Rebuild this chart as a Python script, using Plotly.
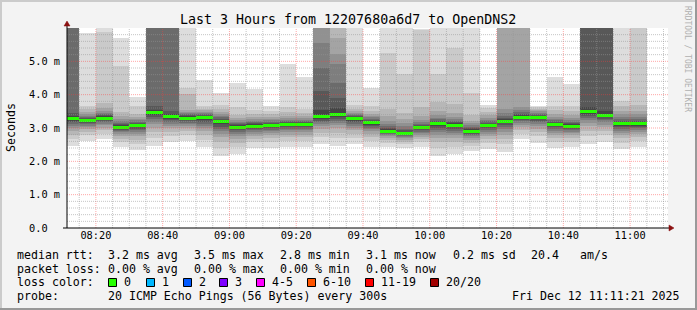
import plotly.graph_objects as go
import pandas as pd

# ---------------- data ----------------
DAY = "2025-12-12"
RANGE_START = "08:11:21"
RANGE_END = "11:11:21"

bin_start = ["08:10", "08:15", "08:20", "08:25", "08:30", "08:35", "08:40", "08:45",
             "08:50", "08:55", "09:00", "09:05", "09:10", "09:15", "09:20", "09:25",
             "09:30", "09:35", "09:40", "09:45", "09:50", "09:55", "10:00", "10:05",
             "10:10", "10:15", "10:20", "10:25", "10:30", "10:35", "10:40", "10:45",
             "10:50", "10:55", "11:00"]

# median rtt per 5-minute bin (ms)
median_ms = [3.28, 3.24, 3.30, 3.03, 3.09, 3.46, 3.34, 3.30, 3.31, 3.19,
             3.03, 3.06, 3.09, 3.11, 3.11, 3.34, 3.41, 3.28, 3.16, 2.91,
             2.84, 3.01, 3.14, 3.09, 2.91, 3.08, 3.21, 3.33, 3.33, 3.11,
             3.06, 3.49, 3.39, 3.13, 3.13]

# loss per bin (pings lost of 20)
loss_count = [0] * 35

# 20 sorted ping rtts per bin (ms); 9.9 = above the top of the graph
pings_ms = [
    [2.46, 2.66, 2.80, 2.91, 2.99, 3.06, 3.12, 3.17, 3.21, 3.26, 3.30, 3.36, 3.45, 9.9, 9.9, 9.9, 9.9, 9.9, 9.9, 9.9],
    [2.62, 2.78, 2.88, 2.96, 3.02, 3.07, 3.12, 3.15, 3.19, 3.22, 3.26, 3.28, 3.30, 3.33, 3.37, 3.42, 3.48, 3.56, 3.66, 5.84],
    [2.66, 2.82, 2.93, 3.01, 3.08, 3.13, 3.17, 3.21, 3.25, 3.28, 3.32, 3.35, 3.38, 3.42, 3.46, 3.52, 3.60, 3.75, 5.87, 9.9],
    [2.43, 2.58, 2.68, 2.76, 2.82, 2.87, 2.91, 2.95, 2.98, 3.01, 3.05, 3.08, 3.11, 3.15, 3.20, 3.27, 3.35, 3.49, 4.86, 5.71],
    [2.33, 2.52, 2.65, 2.75, 2.82, 2.88, 2.94, 2.98, 3.03, 3.07, 3.11, 3.13, 3.16, 3.19, 3.23, 3.28, 3.34, 3.41, 3.66, 3.93],
    [2.46, 2.71, 2.88, 3.01, 3.11, 3.19, 3.26, 3.32, 3.38, 3.43, 3.49, 3.55, 3.65, 9.9, 9.9, 9.9, 9.9, 9.9, 9.9, 9.9],
    [2.57, 2.76, 2.89, 2.99, 3.07, 3.13, 3.19, 3.23, 3.28, 3.32, 3.36, 3.42, 3.52, 9.9, 9.9, 9.9, 9.9, 9.9, 9.9, 9.9],
    [2.61, 2.78, 2.90, 2.99, 3.06, 3.11, 3.16, 3.20, 3.24, 3.28, 3.32, 3.35, 3.38, 3.41, 3.44, 3.48, 3.53, 4.01, 4.21, 9.9],
    [2.43, 2.65, 2.80, 2.91, 3.00, 3.07, 3.13, 3.19, 3.24, 3.29, 3.33, 3.36, 3.39, 3.42, 3.45, 3.49, 3.54, 3.58, 3.65, 4.43],
    [2.15, 2.41, 2.59, 2.72, 2.83, 2.91, 2.98, 3.04, 3.11, 3.16, 3.22, 3.25, 3.28, 3.32, 3.36, 3.41, 3.48, 3.57, 3.68, 4.06],
    [2.22, 2.42, 2.56, 2.67, 2.75, 2.81, 2.87, 2.93, 2.97, 3.01, 3.05, 3.08, 3.11, 3.15, 3.19, 3.24, 3.31, 3.40, 3.62, 4.36],
    [2.40, 2.57, 2.68, 2.76, 2.83, 2.88, 2.93, 2.97, 3.01, 3.04, 3.08, 3.11, 3.14, 3.18, 3.22, 3.27, 3.33, 3.42, 3.55, 4.16],
    [2.40, 2.57, 2.69, 2.78, 2.85, 2.90, 2.95, 3.00, 3.04, 3.07, 3.11, 3.13, 3.16, 3.19, 3.23, 3.28, 3.34, 3.42, 3.52, 3.66],
    [2.43, 2.60, 2.72, 2.80, 2.87, 2.93, 2.97, 3.02, 3.06, 3.09, 3.13, 3.15, 3.18, 3.21, 3.25, 3.30, 3.37, 3.47, 3.62, 4.91],
    [2.43, 2.60, 2.72, 2.80, 2.87, 2.93, 2.97, 3.02, 3.06, 3.09, 3.13, 3.15, 3.18, 3.21, 3.25, 3.30, 3.36, 3.44, 3.57, 4.53],
    [2.51, 2.72, 2.86, 2.97, 3.05, 3.12, 3.17, 3.22, 3.27, 3.32, 3.37, 3.55, 4.11, 4.81, 5.56, 9.9, 9.9, 9.9, 9.9, 9.9],
    [2.47, 2.71, 2.86, 2.99, 3.08, 3.16, 3.22, 3.28, 3.34, 3.39, 3.44, 3.60, 3.90, 4.36, 4.91, 5.21, 5.71, 9.9, 9.9, 9.9],
    [2.51, 2.70, 2.83, 2.93, 3.01, 3.07, 3.13, 3.17, 3.22, 3.26, 3.30, 3.32, 3.35, 3.38, 3.42, 3.46, 3.51, 3.58, 3.68, 9.9],
    [2.43, 2.61, 2.74, 2.83, 2.90, 2.96, 3.01, 3.06, 3.10, 3.14, 3.18, 3.21, 3.24, 3.28, 3.32, 3.37, 3.43, 3.52, 3.66, 4.19],
    [2.43, 2.56, 2.65, 2.71, 2.75, 2.79, 2.82, 2.85, 2.87, 2.89, 2.93, 2.96, 3.00, 3.05, 3.12, 3.22, 3.36, 3.56, 5.26, 9.9],
    [2.40, 2.51, 2.58, 2.64, 2.69, 2.72, 2.75, 2.78, 2.80, 2.82, 2.86, 2.89, 2.93, 2.98, 3.05, 3.14, 3.27, 3.46, 4.63, 9.9],
    [2.42, 2.57, 2.67, 2.74, 2.80, 2.85, 2.89, 2.93, 2.96, 2.99, 3.03, 3.06, 3.09, 3.13, 3.18, 3.25, 3.35, 3.62, 5.93, 5.97],
    [2.17, 2.41, 2.58, 2.70, 2.80, 2.88, 2.95, 3.01, 3.07, 3.12, 3.16, 3.19, 3.22, 3.26, 3.31, 3.38, 3.50, 3.77, 4.63, 9.9],
    [2.22, 2.44, 2.59, 2.70, 2.79, 2.86, 2.92, 2.97, 3.02, 3.07, 3.11, 3.14, 3.17, 3.21, 3.26, 3.33, 3.45, 3.71, 5.41, 9.9],
    [2.31, 2.46, 2.56, 2.64, 2.70, 2.75, 2.79, 2.83, 2.86, 2.89, 2.93, 2.96, 3.00, 3.04, 3.09, 3.15, 3.22, 3.40, 4.06, 9.9],
    [2.37, 2.55, 2.67, 2.76, 2.83, 2.89, 2.94, 2.99, 3.03, 3.06, 3.10, 3.13, 3.16, 3.20, 3.25, 3.31, 3.39, 3.49, 3.60, 3.69],
    [2.27, 2.51, 2.66, 2.79, 2.88, 2.96, 3.02, 3.08, 3.14, 3.19, 3.23, 3.26, 3.30, 3.36, 3.45, 3.58, 9.9, 9.9, 9.9, 9.9],
    [2.66, 2.83, 2.94, 3.03, 3.10, 3.15, 3.20, 3.24, 3.28, 3.31, 3.35, 3.38, 3.42, 3.48, 3.55, 3.64, 9.9, 9.9, 9.9, 9.9],
    [2.55, 2.75, 2.88, 2.98, 3.06, 3.12, 3.18, 3.22, 3.27, 3.31, 3.35, 3.37, 3.40, 3.43, 3.46, 3.50, 3.54, 3.58, 3.62, 3.66],
    [2.40, 2.58, 2.70, 2.79, 2.86, 2.92, 2.97, 3.02, 3.06, 3.09, 3.13, 3.16, 3.19, 3.23, 3.28, 3.34, 3.42, 3.53, 3.66, 4.53],
    [2.43, 2.59, 2.69, 2.78, 2.84, 2.89, 2.94, 2.98, 3.01, 3.04, 3.08, 3.11, 3.14, 3.18, 3.23, 3.30, 3.39, 3.51, 3.65, 4.33],
    [2.51, 2.76, 2.92, 3.05, 3.15, 3.23, 3.29, 3.35, 3.41, 3.46, 3.52, 3.62, 9.9, 9.9, 9.9, 9.9, 9.9, 9.9, 9.9, 9.9],
    [2.57, 2.78, 2.91, 3.02, 3.10, 3.17, 3.23, 3.28, 3.32, 3.37, 3.41, 3.50, 9.9, 9.9, 9.9, 9.9, 9.9, 9.9, 9.9, 9.9],
    [2.37, 2.56, 2.69, 2.79, 2.86, 2.92, 2.98, 3.02, 3.07, 3.11, 3.15, 3.18, 3.22, 3.27, 3.33, 3.41, 3.52, 3.66, 3.80, 9.9],
    [2.42, 2.60, 2.72, 2.81, 2.88, 2.94, 2.99, 3.03, 3.07, 3.11, 3.15, 3.18, 3.22, 3.27, 3.33, 3.41, 3.52, 3.70, 9.9, 9.9],
]

x_tick_labels = ["08:20", "08:40", "09:00", "09:20", "09:40", "10:00", "10:20", "10:40", "11:00"]
y_tick_values = [0, 1, 2, 3, 4, 5]
y_tick_labels = ["0.0\u00a0\u00a0", "1.0 m", "2.0 m", "3.0 m", "4.0 m", "5.0 m"]

title_text = "Last 3 Hours from 12207680a6d7 to OpenDNS2"
rtt_stats = ["3.2 ms avg", "3.5 ms max", "2.8 ms min", "3.1 ms now", "0.2 ms sd", "20.4", "am/s"]
loss_stats = ["0.00 % avg", "0.00 % max", "0.00 % min", "0.00 % now"]
loss_labels = ["0", "1", "2", "3", "4-5", "6-10", "11-19", "20/20"]
loss_colors = ["#26ff00", "#00b8ff", "#0059ff", "#7e00ff", "#ff00ff", "#ff5500", "#ff0000", "#a10000"]
probe_text = "20 ICMP Echo Pings (56 Bytes) every 300s"
stamp_text = "Fri Dec 12 11:11:21 2025"

# ---------------- geometry ----------------
W, H = 697, 310
PL, PR, PT, PB = 67, 668, 28, 228     # plot area in pixels
Y_TOP = 6.0
MONO = "DejaVu Sans Mono"


def px(x):
    return (x - PL) / (PR - PL)


def py(y):
    return (PB - y) / (PB - PT)


fig = go.Figure()

x_center = [pd.Timestamp(f"{DAY} {t}") + pd.Timedelta(minutes=2.5) for t in bin_start]
bin_width = 5 * 60 * 1000

# smoke: pairs (p_i, p_{21-i}), lightest outside, darkest inside
half = 10
for i in range(1, half + 1):
    shade = int(190 / half * (half - i)) + 50
    col = "#%02x%02x%02x" % (shade, shade, shade)
    lo = [min(r[i - 1], Y_TOP) for r in pings_ms]
    hi = [min(r[20 - i], Y_TOP) for r in pings_ms]
    fig.add_trace(go.Bar(
        x=x_center, base=lo, y=[h - l for h, l in zip(hi, lo)], width=bin_width,
        marker=dict(color=col, line=dict(width=0)), hoverinfo="skip", showlegend=False))

# median line (coloured by loss)
med_h = 0.09
fig.add_trace(go.Bar(
    x=x_center, base=[m - med_h / 2 for m in median_ms], y=[med_h] * len(median_ms),
    width=bin_width,
    marker=dict(color=[loss_colors[0] if l == 0 else loss_colors[-1] for l in loss_count], line=dict(width=0)),
    hoverinfo="skip", showlegend=False))

shapes = []
# grid (drawn above the smoke, like rrdtool)
minor_col = "rgba(150,150,150,0.55)"
major_col = "rgba(255,60,60,0.45)"
t = pd.Timestamp(f"{DAY} 08:15")
t_end = pd.Timestamp(f"{DAY} {RANGE_END}")
while t < t_end:
    major = t.minute % 20 == 0
    shapes.append(dict(type="line", xref="x", yref="paper", x0=t, x1=t, y0=0, y1=1, layer="above",
                       line=dict(color=major_col if major else minor_col, width=1, dash="1px,1px")))
    t += pd.Timedelta(minutes=5)
for k in range(1, 30):
    v = k * 0.2
    major = k % 5 == 0
    shapes.append(dict(type="line", xref="paper", yref="y", x0=0, x1=1, y0=v, y1=v, layer="above",
                       line=dict(color=major_col if major else minor_col, width=1, dash="1px,1px")))

# axes lines and arrows
shapes.append(dict(type="line", xref="paper", yref="paper", x0=px(63), x1=px(670), y0=0, y1=0,
                   line=dict(color="#000000", width=1), layer="above"))
shapes.append(dict(type="line", xref="paper", yref="paper", x0=0, x1=0, y0=py(228), y1=py(24),
                   line=dict(color="#000000", width=1), layer="above"))
arrow_col = "#8b1010"
shapes.append(dict(type="path", xref="paper", yref="paper",
                   path=f"M {px(669)} {py(225)} L {px(674)} {py(228)} L {px(669)} {py(231)} Z",
                   fillcolor=arrow_col, line=dict(color=arrow_col, width=0.5), layer="above"))
shapes.append(dict(type="path", xref="paper", yref="paper",
                   path=f"M {px(64)} {py(26)} L {px(67)} {py(21)} L {px(70)} {py(26)} Z",
                   fillcolor=arrow_col, line=dict(color=arrow_col, width=0.5), layer="above"))

# frame
for (x0, y0, x1, y1, c) in [(0, 0, W, 2, "#cbcbcb"), (0, 0, 2, H, "#cbcbcb"),
                            (0, H - 2, W, H, "#999999"), (W - 2, 0, W, H, "#999999")]:
    shapes.append(dict(type="rect", xref="paper", yref="paper", x0=px(x0), x1=px(x1), y0=py(y1), y1=py(y0),
                       fillcolor=c, line=dict(width=0), layer="above"))

# loss colour boxes
box_x = [108, 146, 183, 219, 256, 307, 365, 430]
for bx, c in zip(box_x, loss_colors):
    shapes.append(dict(type="rect", xref="paper", yref="paper",
                       x0=px(bx + 0.5), x1=px(bx + 8.5), y0=py(286.5), y1=py(278.5),
                       fillcolor=c, line=dict(color="#000000", width=1), layer="above"))

annotations = []


def txt(x, y, s, size=11.6, anchor="left", color="#000000", angle=0):
    annotations.append(dict(x=px(x), y=py(y), xref="paper", yref="paper", text=s, showarrow=False,
                            xanchor=anchor, yanchor="middle", textangle=angle, borderpad=0,
                            font=dict(family=MONO, size=size, color=color)))


txt(347.5, 19, title_text, size=13.3, anchor="center")
txt(11, 128, "Seconds", size=11.6, anchor="center", angle=-90)
txt(688, 59, "RRDTOOL / TOBI OETIKER", size=8, anchor="center", color="#b0b0b0", angle=90)

L1, L2, L3, L4 = 255, 268.5, 282, 295.7
txt(16, L1, "median rtt:")
for x, s in zip([107, 193, 279, 365, 452, 530, 579], rtt_stats):
    txt(x, L1, s)
txt(16, L2, "packet loss:")
for x, s in zip([107, 193, 279, 365], loss_stats):
    txt(x, L2, s)
txt(16, L3, "loss color:")
for bx, s in zip(box_x, loss_labels):
    txt(bx + 15, L3, s)
txt(16, L4, "probe:")
txt(107, L4, probe_text)
txt(681, L4, stamp_text, anchor="right")

fig.update_layout(
    width=W, height=H,
    margin=dict(l=PL, r=W - PR, t=PT, b=H - PB, pad=0),
    paper_bgcolor="#f3f3f3", plot_bgcolor="#ffffff",
    barmode="overlay", bargap=0, showlegend=False,
    shapes=shapes, annotations=annotations,
    xaxis=dict(type="date", range=[f"{DAY} {RANGE_START}", f"{DAY} {RANGE_END}"],
               tickvals=[f"{DAY} {s}" for s in x_tick_labels], ticktext=x_tick_labels,
               showgrid=False, zeroline=False, showline=False, ticks="",
               tickfont=dict(family=MONO, size=10.3, color="#000000"), fixedrange=True),
    yaxis=dict(range=[0, Y_TOP], tickvals=y_tick_values, ticktext=y_tick_labels,
               showgrid=False, zeroline=False, showline=False, ticks="", ticklabelstandoff=6,
               tickfont=dict(family=MONO, size=10.3, color="#000000"), fixedrange=True),
)

fig.write_html("out.html")
